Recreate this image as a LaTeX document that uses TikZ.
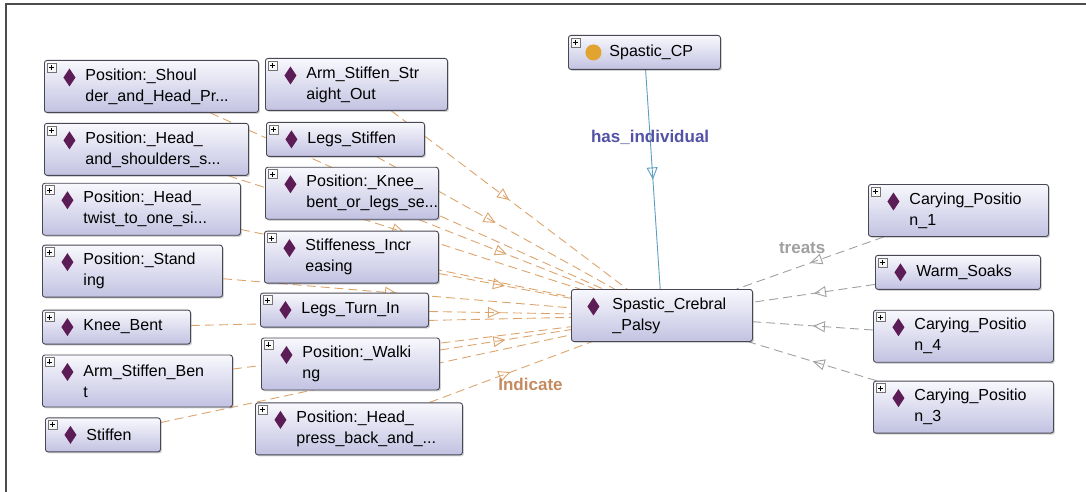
\documentclass[tikz,border=0pt]{standalone}
\usepackage{fontspec}
\setmainfont{Liberation Sans}
\usepackage{tikz}
\usetikzlibrary{arrows.meta}
\usetikzlibrary{positioning}
\usetikzlibrary{shadows}
\usetikzlibrary{decorations.markings}

\definecolor{boxline}{RGB}{72,72,84}
\definecolor{boxtop}{RGB}{248,248,253}
\definecolor{boxbot}{RGB}{194,194,226}
\definecolor{indcol}{RGB}{92,28,86}
\definecolor{clscol}{RGB}{226,164,48}
\definecolor{indicol}{RGB}{220,164,108}
\definecolor{indilbl}{RGB}{196,138,96}
\definecolor{treatcol}{RGB}{160,160,160}
\definecolor{hascol}{RGB}{92,158,192}
\definecolor{haslbl}{RGB}{82,82,166}

\pgfdeclarelayer{background}
\pgfsetlayers{background,main}

% icons in the top left corner of a box
\newcommand{\plusicon}{%
  \draw[sharp corners, black!55, top color=white, bottom color=black!15, line width=0.6pt]
    ([xshift=2.5pt,yshift=-2.5pt]path picture bounding box.north west) rectangle ++(9pt,-9pt);
  \draw[sharp corners, black, line width=0.8pt]
    ([xshift=4.5pt,yshift=-7pt]path picture bounding box.north west) -- ++(5pt,0pt)
    ([xshift=7pt,yshift=-4.5pt]path picture bounding box.north west) -- ++(0pt,-5pt);}
\newcommand{\diamicon}[1][25pt]{%
  \fill[sharp corners, indcol] ([xshift=#1,yshift=-17pt]path picture bounding box.north west)
    +(0pt,9pt) -- +(6pt,0pt) -- +(0pt,-9pt) -- +(-6pt,0pt) -- cycle;}
\newcommand{\dotcon}{%
  \fill[clscol] ([xshift=25pt,yshift=-17pt]path picture bounding box.north west) circle[radius=8pt];}

\begin{document}
\begin{tikzpicture}[x=1pt,y=-1pt,font=\fontsize{16}{21}\selectfont,
    box/.style={rectangle,draw=boxline,line width=0.9pt,rounded corners=2.5pt,
      top color=boxtop,bottom color=boxbot,
      drop shadow={shadow xshift=1.5pt,shadow yshift=-1.5pt,opacity=0.35},
      align=left,inner xsep=4pt,inner ysep=2pt,minimum height=34pt,
      execute at begin node={\leftskip=37pt}},
    tall/.style={minimum height=52pt},
    ind/.style={box,path picture={\plusicon\diamicon}},
    cls/.style={box,path picture={\plusicon\dotcon}},
    main/.style={box,path picture={\diamicon[22pt]}},
    lbl/.style={font=\fontsize{17}{20}\selectfont\bfseries},
    indicate/.style={color=indicol,line width=0.9pt,dash pattern=on 9pt off 5pt,
      postaction={decorate},decoration={markings,mark=at position 0.5 with
        {\arrow{Triangle[open,length=12pt,width=11pt]}}}},
    treats/.style={indicate,color=treatcol},
    has/.style={indicate,solid,color=hascol}]
  \useasboundingbox (0,0) rectangle (1086,492);
  \draw[black!70,line width=1.5pt] (6,492) -- (6,4) -- (1086,4);

  % left column
  \node[ind,tall,text width=206pt,anchor=north west] (shoulder) at (44,60) {Position:\_Shoul\\der\_and\_Head\_Pr...};
  \node[ind,tall,text width=196pt] (headsh) [below=10pt of shoulder.south west,anchor=north west] {Position:\_Head\_\\and\_shoulders\_s...};
  \node[ind,tall,text width=190pt] (twist) [below=7pt of headsh.south west,anchor=north west,xshift=-2pt] {Position:\_Head\_\\twist\_to\_one\_si...};
  \node[ind,tall,text width=172pt] (standing) [below=9pt of twist.south west,anchor=north west] {Position:\_Stand\\ing};
  \node[ind,text width=140pt] (kneebent) [below=12pt of standing.south west,anchor=north west] {Knee\_Bent};
  \node[ind,tall,text width=182pt] (armbent) [below=10pt of kneebent.south west,anchor=north west] {Arm\_Stiffen\_Ben\\t};
  \node[ind,text width=107pt] (stiffen) [below=10pt of armbent.south west,anchor=north west,xshift=3pt] {Stiffen};

  % middle column
  \node[ind,tall,text width=174pt,anchor=north west] (armout) at (265,58) {Arm\_Stiffen\_Str\\aight\_Out};
  \node[ind,text width=150pt] (legsstiff) [below=11pt of armout.south west,anchor=north west,xshift=1pt] {Legs\_Stiffen};
  \node[ind,tall,text width=165pt] (kneelegs) [below=10pt of legsstiff.south west,anchor=north west,xshift=-1pt] {Position:\_Knee\_\\bent\_or\_legs\_se...};
  \node[ind,tall,text width=166pt] (stiffinc) [below=11pt of kneelegs.south west,anchor=north west,xshift=-1pt] {Stiffeness\_Incr\\easing};
  \node[ind,text width=160pt] (turnin) [below=9pt of stiffinc.south west,anchor=north west,xshift=-4pt] {Legs\_Turn\_In};
  \node[ind,tall,text width=170pt] (walking) [below=10pt of turnin.south west,anchor=north west,xshift=1pt] {Position:\_Walki\\ng};
  \node[ind,tall,text width=199pt] (headpress) [below=12pt of walking.south west,anchor=north west,xshift=-6pt] {Position:\_Head\_\\press\_back\_and\_...};

  % class and the central individual
  \node[cls,text width=144pt,anchor=north west] (spcp) at (568,35) {Spastic\_CP};
  \node[main,tall,text width=173pt,anchor=north west] (palsy) at (571,289) {Spastic\_Crebral\\\_Palsy};

  % right column
  \node[ind,tall,text width=172pt,anchor=north west] (carry1) at (868,184) {Carying\_Positio\\n\_1};
  \node[ind,text width=157pt] (soaks) [below=18pt of carry1.south west,anchor=north west,xshift=7pt] {Warm\_Soaks};
  \node[ind,tall,text width=172pt] (carry4) [below=20pt of soaks.south west,anchor=north west,xshift=-2pt] {Carying\_Positio\\n\_4};
  \node[ind,tall,text width=172pt] (carry3) [below=18pt of carry4.south west,anchor=north west] {Carying\_Positio\\n\_3};

  \begin{pgfonlayer}{background}
    \path
      (shoulder) edge[indicate] (palsy)
      (headsh) edge[indicate] (palsy)
      (twist) edge[indicate] (palsy)
      (standing) edge[indicate] (palsy)
      (kneebent) edge[indicate] (palsy)
      (armbent) edge[indicate] (palsy)
      (stiffen) edge[indicate] (palsy)
      (armout) edge[indicate] (palsy)
      (legsstiff) edge[indicate] (palsy)
      (kneelegs) edge[indicate] (palsy)
      (stiffinc) edge[indicate] (palsy)
      (turnin) edge[indicate] (palsy)
      (walking) edge[indicate] (palsy)
      (headpress) edge[indicate] node[lbl,text=indilbl,below=2pt,xshift=20pt] {Indicate} (palsy)

      (spcp) edge[has] node[lbl,text=haslbl,pos=0.31] {has\_individual} (palsy)

      (carry1) edge[treats] node[lbl,text=treatcol,above=6pt,xshift=-8pt] {treats} (palsy)
      (soaks) edge[treats] (palsy)
      (carry4) edge[treats] (palsy)
      (carry3) edge[treats] (palsy);
  \end{pgfonlayer}
\end{tikzpicture}
\end{document}
